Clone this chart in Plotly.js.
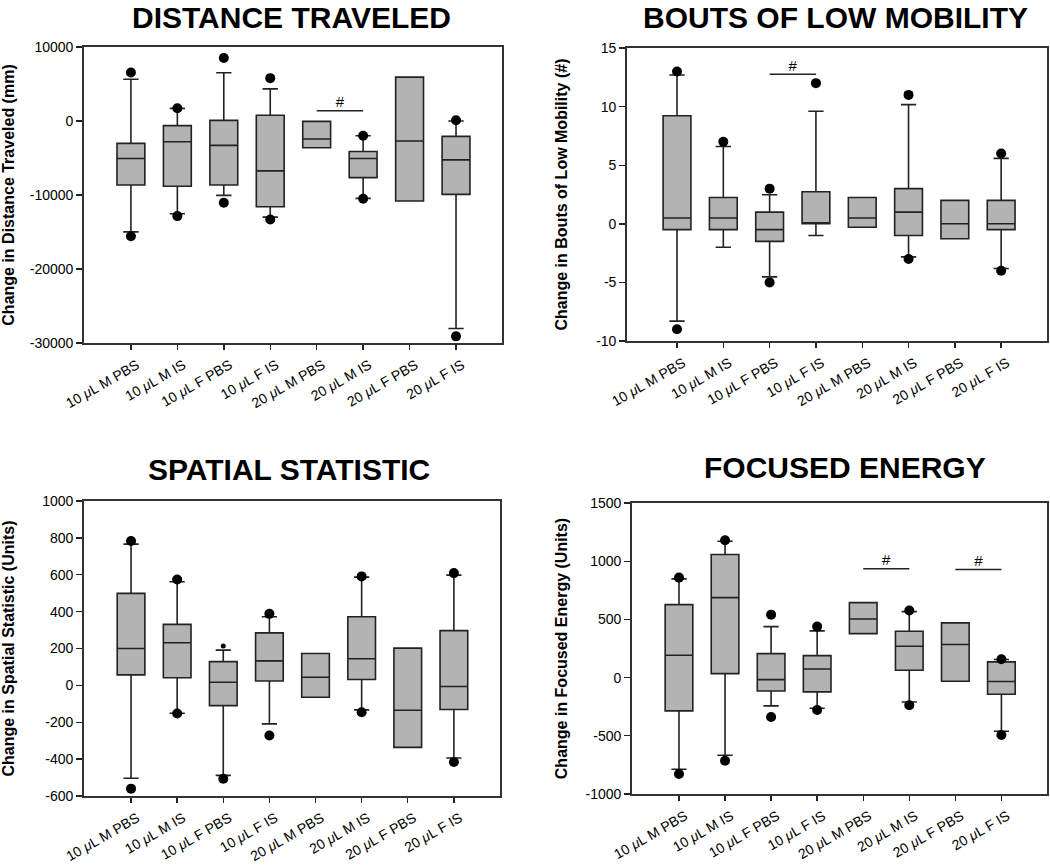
<!DOCTYPE html>
<html><head><meta charset="utf-8">
<script src="https://cdn.plot.ly/plotly-3.0.1.min.js"></script>
<style>html,body{margin:0;padding:0;background:#fff}#chart{width:1050px;height:866px}</style>
</head><body><div id="chart"></div>
<script>
// ---------- DATA ----------
const categories = ['10 μL M PBS','10 μL M IS','10 μL F PBS','10 μL F IS','20 μL M PBS','20 μL M IS','20 μL F PBS','20 μL F IS'];

// Distance traveled (mm)
const distTitle = 'DISTANCE TRAVELED';
const distYLabel = 'Change in Distance Traveled (mm)';
const distQ1 = [-8640,-8820,-8640,-11580,-3620,-7650,-10810,-9910];
const distMedian = [-5070,-2800,-3300,-6740,-2440,-5070,-2710,-5250];
const distQ3 = [-3030,-630,90,770,-50,-4120,5930,-2080];
const distWhiskerLow = [-14980,-12530,-10050,-12990,null,-10450,null,-28050];
const distWhiskerHigh = [5650,1700,6520,4340,null,-2000,null,0];
const distDotLow = [-15570,-12850,-11040,-13300,null,-10500,null,-29100];
const distDotHigh = [6560,1720,8510,5790,null,-1990,null,90];
const distSigPairs = [[4,5]];
const distSigLevel = [1400];
const distTicks = [10000,0,-10000,-20000,-30000];

// Bouts of low mobility (#)
const boutsTitle = 'BOUTS OF LOW MOBILITY';
const boutsYLabel = 'Change in Bouts of Low Mobility (#)';
const boutsQ1 = [-0.5,-0.5,-1.5,0,-0.3,-1,-1.28,-0.5];
const boutsMedian = [0.5,0.5,-0.5,0,0.5,1,0,0];
const boutsQ3 = [9.22,2.25,1,2.73,2.25,3,2,2];
const boutsWhiskerLow = [-8.3,-2,-4.53,-1,null,-2.82,null,-3.82];
const boutsWhiskerHigh = [12.7,6.6,2.48,9.6,null,10.17,null,5.58];
const boutsDotLow = [-9,null,-5,null,null,-3,null,-4];
const boutsDotHigh = [13,7,3,12,null,11,null,6];
const boutsSigPairs = [[2,3]];
const boutsSigLevel = [12.75];
const boutsTicks = [15,10,5,0,-5,-10];

// Spatial statistic (Units)
const spatTitle = 'SPATIAL STATISTIC';
const spatYLabel = 'Change in Spatial Statistic (Units)';
const spatQ1 = [57,41,-110,24,-64,32,-336,-131];
const spatMedian = [200,231,17,133,44,144,-135,-6];
const spatQ3 = [499,331,129,285,173,372,202,297];
const spatWhiskerLow = [-504,-151,-488,-209,null,-133,null,-394];
const spatWhiskerHigh = [766,562,191,372,null,587,null,598];
const spatDotLow = [-560,-153,-506,-272,null,-146,null,-416];
const spatDotHigh = [783,574,214,388,null,591,null,609];
const spatSigPairs = [];
const spatSigLevel = [];
const spatTicks = [1000,800,600,400,200,0,-200,-400,-600];

// Focused energy (Units)
const focTitle = 'FOCUSED ENERGY';
const focYLabel = 'Change in Focused Energy (Units)';
const focQ1 = [-286,34,-115,-123,378,63,-31,-143];
const focMedian = [192,687,-17,74,504,269,284,-34];
const focQ3 = [627,1057,206,189,644,398,470,135];
const focWhiskerLow = [-788,-667,-243,-263,null,-209,null,-461];
const focWhiskerHigh = [848,1171,438,401,null,567,null,155];
const focDotLow = [-828,-714,-338,-278,null,-238,null,-493];
const focDotHigh = [859,1180,541,438,null,576,null,157];
const focSigPairs = [[4,5],[6,7]];
const focSigLevel = [936,928];
const focTicks = [1500,1000,500,0,-500,-1000];

// ---------- PANEL SETUP ----------
const FONT = '"Liberation Sans", Arial, Helvetica, sans-serif';
const INK = '#222';
const W = 1050, H = 866;
const px = v => v / W;
const py = v => 1 - v / H;

const panels = [
  {title: distTitle, ylab: distYLabel, q1: distQ1, med: distMedian, q3: distQ3, wl: distWhiskerLow, wh: distWhiskerHigh,
   dl: distDotLow, dh: distDotHigh, sig: distSigPairs, sigY: distSigLevel, ticks: distTicks,
   dom: {x: [84, 502], y: [47, 343]}, xr: [-1.01, 7.99], yr: [-30000, 10000], standoff: 12,
   titlePos: [291, 0]},
  {title: boutsTitle, ylab: boutsYLabel, q1: boutsQ1, med: boutsMedian, q3: boutsQ3, wl: boutsWhiskerLow, wh: boutsWhiskerHigh,
   dl: boutsDotLow, dh: boutsDotHigh, sig: boutsSigPairs, sigY: boutsSigLevel, ticks: boutsTicks,
   dom: {x: [627, 1047], y: [48, 341]}, xr: [-1.08, 7.99], yr: [-10, 15], standoff: 24,
   titlePos: [835, 0]},
  {title: spatTitle, ylab: spatYLabel, q1: spatQ1, med: spatMedian, q3: spatQ3, wl: spatWhiskerLow, wh: spatWhiskerHigh,
   dl: spatDotLow, dh: spatDotHigh, sig: spatSigPairs, sigY: spatSigLevel, ticks: spatTicks,
   dom: {x: [84, 500], y: [501, 796]}, xr: [-1.02, 8.0], yr: [-600, 1000], standoff: 30,
   titlePos: [289, 452]},
  {title: focTitle, ylab: focYLabel, q1: focQ1, med: focMedian, q3: focQ3, wl: focWhiskerLow, wh: focWhiskerHigh,
   dl: focDotLow, dh: focDotHigh, sig: focSigPairs, sigY: focSigLevel, ticks: focTicks,
   dom: {x: [632, 1047], y: [503, 794]}, xr: [-1.02, 7.99], yr: [-1000, 1500], standoff: 14,
   titlePos: [845, 450]}
];

const xIdx = categories.map((c, i) => i);
const tickText = categories.map(c => c.replace('μ', '<i>μ</i>'));

const data = [];
const layout = {
  width: W, height: H,
  margin: {l: 0, r: 0, t: 0, b: 0},
  paper_bgcolor: '#fff', plot_bgcolor: '#fff',
  showlegend: false,
  font: {family: FONT, color: '#000', size: 14},
  annotations: []
};

panels.forEach((p, k) => {
  const n = k + 1;
  const xa = 'x' + (n === 1 ? '' : n), ya = 'y' + (n === 1 ? '' : n);
  const xKey = 'xaxis' + (n === 1 ? '' : n), yKey = 'yaxis' + (n === 1 ? '' : n);

  // boxes (whiskers = 10th/90th, box = quartiles)
  data.push({
    type: 'box', xaxis: xa, yaxis: ya,
    x: xIdx,
    q1: p.q1, median: p.med, q3: p.q3,
    lowerfence: p.wl.map((v, i) => v === null ? p.q1[i] : v),
    upperfence: p.wh.map((v, i) => v === null ? p.q3[i] : v),
    width: 0.6, whiskerwidth: 0.55,
    boxpoints: false,
    fillcolor: '#b3b3b3',
    line: {color: INK, width: 1.6},
    hoverinfo: 'skip'
  });

  // 5th/95th percentile dots
  const dx = [], dy = [], ds = [];
  xIdx.forEach(i => {
    if (p.dl[i] !== null) { dx.push(i); dy.push(p.dl[i]); ds.push(10); }
    if (p.dh[i] !== null) {
      dx.push(i); dy.push(p.dh[i]);
      // smaller dot on the spatial 10 µL F PBS high percentile
      ds.push(k === 2 && i === 2 ? 5 : 10);
    }
  });
  data.push({
    type: 'scatter', mode: 'markers', xaxis: xa, yaxis: ya,
    x: dx, y: dy, marker: {color: '#000', size: ds, opacity: 1, line: {width: 0}}, hoverinfo: 'skip'
  });

  // significance bars
  p.sig.forEach((pair, j) => {
    data.push({
      type: 'scatter', mode: 'lines', xaxis: xa, yaxis: ya,
      x: pair, y: [p.sigY[j], p.sigY[j]],
      line: {color: INK, width: 1.5}, hoverinfo: 'skip'
    });
    data.push({
      type: 'scatter', mode: 'text', xaxis: xa, yaxis: ya,
      x: [(pair[0] + pair[1]) / 2], y: [p.sigY[j]],
      text: ['#'], textposition: 'top center',
      textfont: {family: FONT, size: 15, color: '#000'}, hoverinfo: 'skip'
    });
  });

  layout[xKey] = {
    domain: [px(p.dom.x[0]), px(p.dom.x[1])], anchor: ya,
    range: p.xr, tickvals: xIdx, ticktext: tickText, tickangle: -30,
    ticklabelshift: 6, ticklabelstandoff: 2,
    ticks: 'outside', ticklen: 5, tickwidth: 1.4, tickcolor: INK,
    showline: true, mirror: true, linecolor: '#333', linewidth: 1.8,
    showgrid: false, zeroline: false,
    tickfont: {family: FONT, size: 14, color: '#000'}, fixedrange: true
  };
  layout[yKey] = {
    domain: [py(p.dom.y[1]), py(p.dom.y[0])], anchor: xa,
    range: p.yr, tickvals: p.ticks, ticktext: p.ticks.map(v => String(v)),
    ticks: 'outside', ticklen: 6, tickwidth: 1.4, tickcolor: INK,
    showline: true, mirror: true, linecolor: '#333', linewidth: 1.8,
    showgrid: false, zeroline: false,
    tickfont: {family: FONT, size: 14, color: '#000'},
    title: {text: '<b>' + p.ylab + '</b>', standoff: p.standoff, font: {family: FONT, size: 16, color: '#000'}},
    fixedrange: true
  };

  layout.annotations.push({
    xref: 'paper', yref: 'paper', x: px(p.titlePos[0]), y: py(p.titlePos[1]),
    xanchor: 'center', yanchor: 'top', showarrow: false, borderpad: 0,
    text: '<b>' + p.title + '</b>',
    font: {family: FONT, size: 30, color: '#000'}
  });
});

Plotly.newPlot('chart', data, layout, {staticPlot: true, displayModeBar: false});
</script>
</body></html>
